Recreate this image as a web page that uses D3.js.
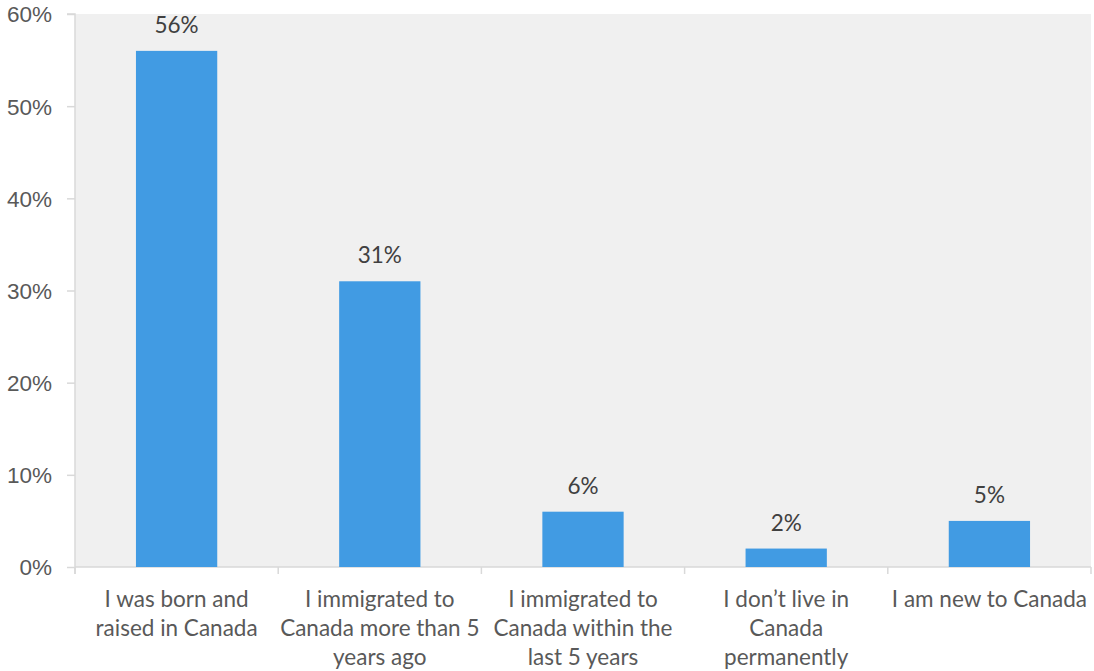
<!DOCTYPE html>
<html>
<head>
<meta charset="utf-8">
<script src="https://cdn.jsdelivr.net/npm/d3@7/dist/d3.min.js"></script>
<style>
  html, body { margin: 0; padding: 0; background: #ffffff; }
  svg { display: block; font-family: Lato, "Open Sans", sans-serif; }
</style>
</head>
<body>
<svg id="chart" width="1094" height="671"></svg>
<script>
// Survey answers: residency status in Canada
const categories = [
  "I was born and\nraised in Canada",
  "I immigrated to\nCanada more than 5\nyears ago",
  "I immigrated to\nCanada within the\nlast 5 years",
  "I don\u2019t live in\nCanada\npermanently",
  "I am new to Canada"
];
const shares = [56, 31, 6, 2, 5];
const yTicks = [0, 10, 20, 30, 40, 50, 60];

const svg = d3.select("#chart");
const plot = { left: 75, right: 1091, top: 14, bottom: 567 };
const fontSize = "22.5px";

const x = d3.scaleBand()
  .domain(d3.range(categories.length))
  .range([plot.left, plot.right])
  .paddingInner(0.6)
  .paddingOuter(0.3);

const y = d3.scaleLinear()
  .domain([0, 60])
  .range([plot.bottom, plot.top]);

// plot background
svg.append("rect")
  .attr("x", plot.left)
  .attr("y", plot.top)
  .attr("width", plot.right - plot.left)
  .attr("height", plot.bottom - plot.top)
  .attr("fill", "#f0f0f0");

// y axis
const yAxis = svg.append("g")
  .attr("transform", `translate(${plot.left},0)`)
  .call(d3.axisLeft(y).tickValues(yTicks).tickFormat(d => d + "%").tickSize(8).tickPadding(15));
yAxis.select(".domain").attr("stroke", "#d9d9d9").attr("stroke-width", 1.5)
  .attr("d", `M-8,${plot.top}H0V${plot.bottom + 7}`);
yAxis.selectAll(".tick line").attr("stroke", "#d9d9d9").attr("stroke-width", 1.5);
yAxis.selectAll(".tick text")
  .attr("fill", "#595959")
  .style("font-size", fontSize)
  .attr("dy", "0.35em");

// x axis: ticks sit on category boundaries
const step = x.step();
const boundaries = d3.range(categories.length + 1).map(i => plot.left + i * step);
const xAxisG = svg.append("g");
xAxisG.append("line")
  .attr("x1", plot.left).attr("x2", plot.right)
  .attr("y1", plot.bottom).attr("y2", plot.bottom)
  .attr("stroke", "#d9d9d9").attr("stroke-width", 1.5);
xAxisG.selectAll("line.tick")
  .data(boundaries)
  .join("line")
  .attr("class", "tick")
  .attr("x1", d => d).attr("x2", d => d)
  .attr("y1", plot.bottom).attr("y2", plot.bottom + 7)
  .attr("stroke", "#d9d9d9").attr("stroke-width", 1.5);

// category labels
const catLabels = svg.append("g").selectAll("text")
  .data(categories)
  .join("text")
  .attr("x", (d, i) => x(i) + x.bandwidth() / 2)
  .attr("y", 607)
  .attr("text-anchor", "middle")
  .attr("fill", "#595959")
  .style("font-size", fontSize);
catLabels.each(function (d) {
  const t = d3.select(this);
  d.split("\n").forEach((line, k) => {
    t.append("tspan")
      .attr("x", t.attr("x"))
      .attr("dy", k === 0 ? 0 : 29)
      .text(line);
  });
});

// bars
svg.append("g").selectAll("rect")
  .data(shares)
  .join("rect")
  .attr("x", (d, i) => x(i))
  .attr("y", d => y(d))
  .attr("width", x.bandwidth())
  .attr("height", d => y(0) - y(d))
  .attr("fill", "#419be3");

// value labels
svg.append("g").selectAll("text")
  .data(shares)
  .join("text")
  .attr("x", (d, i) => x(i) + x.bandwidth() / 2)
  .attr("y", d => y(d) - 18)
  .attr("text-anchor", "middle")
  .attr("fill", "#404040")
  .style("font-size", fontSize)
  .text(d => d + "%");
</script>
</body>
</html>
